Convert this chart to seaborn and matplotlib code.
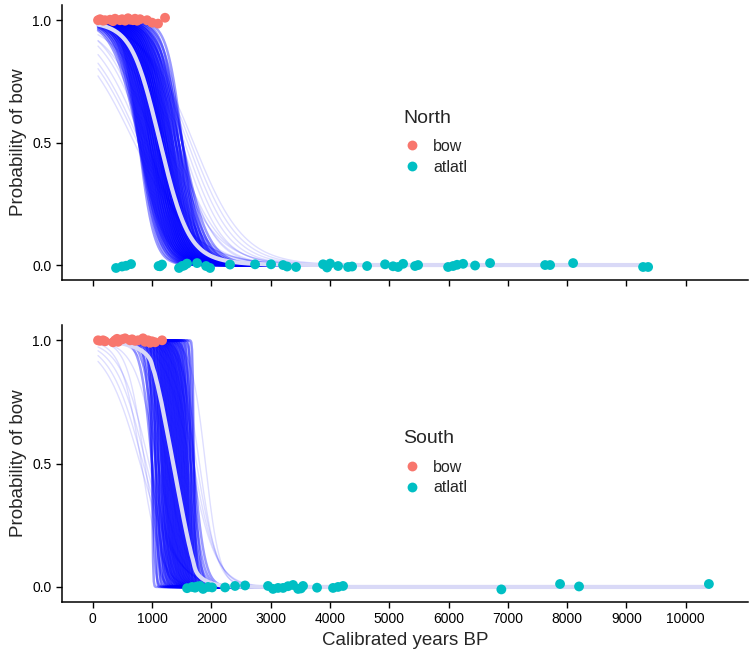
import matplotlib
matplotlib.use("Agg")
import matplotlib.pyplot as plt
import numpy as np
import pandas as pd
import seaborn as sns

# sites: calibrated years BP and (jittered) outcome, 1 = bow, 0 = atlatl
north_bow_x = [89, 123, 174, 207, 292, 342, 376, 460, 494, 545, 595, 629, 680, 713, 747, 798, 916, 1000, 1101, 1219]
north_bow_y = [1.0, 1.004, 0.998, 1.0, 1.002, 0.996, 1.006, 1.0, 1.004, 0.998, 1.008, 1.002, 1.0, 1.006, 0.998, 1.004, 1.0, 0.99, 0.986, 1.01]
north_atl_x = [393, 494, 562, 646, 1110, 1135, 1168, 1455, 1506, 1540, 1590, 1759, 1911, 1978, 2315, 2737, 3007,
               3209, 3277, 3428, 3884, 3951, 4002, 4137, 4305, 4373, 4626, 4929, 5064, 5149, 5233, 5435,
               5486, 5992, 6076, 6144, 6245, 6447, 6700, 7628, 7712, 8100, 9280, 9365]
north_atl_y = [-0.012, -0.006, -0.003, 0.004, -0.004, -0.005, 0.002, -0.012, -0.004, -0.002, 0.006, 0.008, -0.004, -0.012,
               0.002, 0.003, 0.003, 0.0, -0.006, -0.008, 0.003, -0.01, 0.006, -0.004, -0.008, -0.006,
               -0.004, 0.003, -0.005, -0.008, 0.005, -0.004, 0.0, -0.008, -0.004, 0.001, 0.005, -0.002,
               0.008, 0.0, 0.0, 0.008, -0.008, -0.008]

south_bow_x = [89, 123, 174, 207, 342, 376, 410, 427, 494, 545, 629, 663, 713, 764, 848, 882, 933, 967, 1000, 1051, 1169]
south_bow_y = [1.0, 0.998, 1.0, 0.996, 0.992, 1.0, 1.006, 0.994, 1.004, 1.008, 1.0, 1.004, 0.998, 1.0, 1.008,
               0.994, 1.0, 0.99, 0.996, 0.992, 1.0]
south_atl_x = [1590, 1675, 1725, 1760, 1810, 1860, 1944, 2012, 2231, 2400, 2569, 2956, 3040, 3125, 3209, 3293,
               3378, 3462, 3510, 3546, 3782, 4052, 4137, 4221, 6890, 7880, 8200, 10390]
south_atl_y = [-0.005, 0.0, -0.003, 0.002, 0.004, -0.008, 0.0, -0.002, -0.002, 0.004, 0.006, 0.004, -0.008, -0.004,
               -0.004, 0.003, 0.008, -0.008, -0.006, 0.004, -0.003, -0.004, 0.0, 0.004, -0.01, 0.012, 0.002, 0.012]

# posterior draws of the logistic fit: year where p = 0.5 and scale (years).
# the bulk of the draws is every mid/scale pair of the "core" lists, plus a few stray draws
north_core_mid = [780, 820, 860, 900, 940, 975, 1010, 1045, 1080, 1110, 1140, 1170, 1200, 1235, 1270,
                  1310, 1350, 1400, 1450, 1510]
north_core_scale = [130, 160, 190, 220]
north_tail_mid = [850, 800, 760, 700, 900, 1400, 1450, 1500, 1550, 1600, 1650, 1700, 1380, 920, 1250, 1050]
north_tail_scale = [420, 460, 480, 500, 380, 330, 300, 340, 360, 380, 400, 420, 380, 350, 420, 400]

south_core_mid = [1000, 1060, 1110, 1160, 1200, 1240, 1280, 1320, 1360, 1400, 1440, 1480, 1520, 1560,
                  1600, 1650, 1700]
south_core_scale = [8, 25, 55, 95]
south_tail_mid = [950, 900, 850, 800, 1700, 1720, 1650, 1750, 1800, 1900, 1100, 1250, 880, 820]
south_tail_scale = [240, 260, 280, 300, 200, 15, 220, 180, 150, 120, 200, 180, 150, 170]

x_ticks = list(range(0, 10001, 1000))
y_ticks = [0.0, 0.5, 1.0]


def draws(mids, scales, x0, x1):
    xs = np.linspace(x0, x1, 800)
    parts = []
    for i, (m, s) in enumerate(zip(mids, scales)):
        parts.append(pd.DataFrame({"x": xs, "p": 1 / (1 + np.exp((xs - m) / s)), "draw": i}))
    return pd.concat(parts, ignore_index=True)


def points(bx, by, ax_, ay):
    return pd.DataFrame({"x": bx + ax_, "y": by + ay,
                         "weapon": ["bow"] * len(bx) + ["atlatl"] * len(ax_)})


sns.set_style("ticks")
plt.rcParams["font.family"] = ["Liberation Sans", "DejaVu Sans"]

fig = plt.figure(figsize=(7.5, 6.52), dpi=100)
ax1 = fig.add_axes([0.0827, 0.5706, 0.9147, 0.4217])
ax2 = fig.add_axes([0.0827, 0.0767, 0.9147, 0.4248])

panels = [
    (ax1, "North", (north_core_mid, north_core_scale, north_tail_mid, north_tail_scale),
     north_bow_x, north_bow_y, north_atl_x, north_atl_y),
    (ax2, "South", (south_core_mid, south_core_scale, south_tail_mid, south_tail_scale),
     south_bow_x, south_bow_y, south_atl_x, south_atl_y),
]
pal = {"bow": "#F8766D", "atlatl": "#00BFC4"}

for ax, name, (cm, cs, tm, ts), bx, by, tx, ty in panels:
    x0, x1 = min(bx), max(tx)
    core = draws([m for m in cm for s in cs], [s for m in cm for s in cs], x0, x1)
    tail = draws(tm, ts, x0, x1)
    sns.lineplot(data=tail, x="x", y="p", units="draw", estimator=None, color="blue",
                 alpha=0.13, lw=1.0, legend=False, ax=ax)
    sns.lineplot(data=core, x="x", y="p", units="draw", estimator=None, color="blue",
                 alpha=0.4, lw=1.8, legend=False, ax=ax)
    mean = pd.concat([core, tail]).groupby("x", as_index=False)["p"].mean()
    sns.lineplot(data=mean, x="x", y="p", color="#D9D9F7", lw=3.0, ax=ax)
    pts = points(bx, by, tx, ty)
    sns.scatterplot(data=pts, x="x", y="y", hue="weapon", hue_order=["bow", "atlatl"],
                    palette=pal, s=50, linewidth=0, alpha=1, ax=ax, zorder=5)
    h, l = ax.get_legend_handles_labels()
    keep = [(hh, ll) for hh, ll in zip(h, l) if ll in ("bow", "atlatl")]
    leg = ax.legend([k[0] for k in keep], [k[1] for k in keep], title=name, loc="upper left",
                    bbox_to_anchor=(0.497, 0.62), frameon=False, fontsize=11.5, title_fontsize=14,
                    alignment="left", handlelength=1.1, handletextpad=0.8, labelspacing=0.35,
                    borderaxespad=0, borderpad=0)
    leg._legend_box.sep = 9

    ax.set_xlim(-518, 11050)
    ax.set_ylim(-0.061, 1.062)
    ax.set_xticks(x_ticks)
    ax.set_yticks(y_ticks)
    ax.set_yticklabels(["0.0", "0.5", "1.0"])
    ax.set_ylabel("Probability of bow", fontsize=13.5)
    ax.tick_params(direction="out", length=4, width=1, colors="black", labelsize=10)
    for sp in ["left", "bottom"]:
        ax.spines[sp].set_linewidth(1.1)
        ax.spines[sp].set_color("black")
    sns.despine(ax=ax)

ax1.set_xlabel("")
ax1.tick_params(labelbottom=False)
ax2.set_xlabel("Calibrated years BP", fontsize=13.5)

fig.savefig("out.png", dpi=100)
